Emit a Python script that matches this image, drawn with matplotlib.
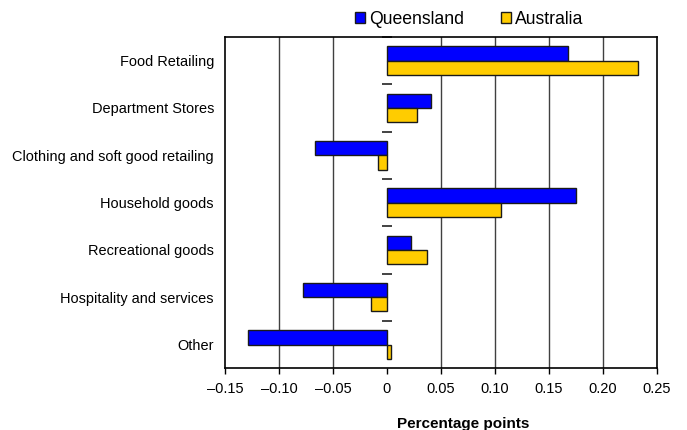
import matplotlib.pyplot as plt
import numpy as np
from matplotlib.patches import Patch

plt.rcParams['font.family'] = ['Liberation Sans', 'DejaVu Sans']

# Contribution to growth by industry (percentage points)
categories = ["Food Retailing", "Department Stores", "Clothing and soft good retailing",
              "Household goods", "Recreational goods", "Hospitality and services", "Other"]
queensland = [0.168, 0.041, -0.067, 0.175, 0.022, -0.078, -0.129]
australia = [0.232, 0.028, -0.008, 0.106, 0.037, -0.015, 0.004]
xticks = [-0.15, -0.10, -0.05, 0, 0.05, 0.10, 0.15, 0.20, 0.25]
xtick_labels = ["\u20130.15", "\u20130.10", "\u20130.05", "0", "0.05", "0.10", "0.15", "0.20", "0.25"]

blue = "#0000FF"
gold = "#FFCC00"

fig = plt.figure(figsize=(6.87, 4.30), dpi=100)
ax = fig.add_axes([0.3275, 0.1435, 0.6288, 0.7705])

y = np.arange(len(categories))
h = 0.3
ax.barh(y - h / 2, queensland, height=h, color=blue, edgecolor="#1a1a1a", linewidth=1, zorder=3)
ax.barh(y + h / 2, australia, height=h, color=gold, edgecolor="#1a1a1a", linewidth=1, zorder=3)

ax.set_xlim(-0.15, 0.25)
ax.set_ylim(len(categories) - 0.5, -0.5)

# vertical gridlines (none at zero)
for xv in xticks:
    if xv != 0 and -0.15 < xv < 0.25:
        ax.axvline(xv, color="#404040", linewidth=1, zorder=1)

# category separator ticks on the zero line
bounds = np.arange(len(categories) + 1) - 0.5
ax.hlines(bounds[:-1], -0.0045, 0.0045, color="#222222", linewidth=1.2, zorder=2, clip_on=False)

ax.set_xticks(xticks)
ax.set_xticklabels(xtick_labels, fontsize=10.5)
ax.tick_params(axis="x", direction="out", length=4, width=1, pad=6)
ax.set_yticks(y)
ax.set_yticklabels(categories, fontsize=10.45)
ax.tick_params(axis="y", length=0, pad=8)

for s in ax.spines.values():
    s.set_linewidth(1.2)
    s.set_color("black")

fig.text(463 / 687, 1 - 424 / 430, "Percentage points", fontsize=11, fontweight="bold",
         ha="center", va="center")

handles = [Patch(facecolor=blue, edgecolor="#1a1a1a", linewidth=1),
           Patch(facecolor=gold, edgecolor="#1a1a1a", linewidth=1)]
fig.legend(handles, ["Queensland", "Australia"], loc="center", bbox_to_anchor=(0.683, 0.955),
           ncol=2, frameon=False, fontsize=12.7, handlelength=0.57, handleheight=0.57,
           handletextpad=0.2, columnspacing=2.1, borderpad=0)

fig.savefig("out.png", dpi=100)
